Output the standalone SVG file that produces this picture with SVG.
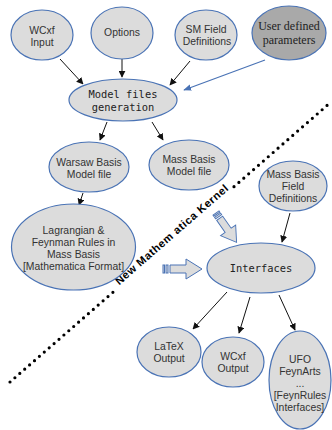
<svg xmlns="http://www.w3.org/2000/svg" width="332" height="430" viewBox="0 0 332 430">
<style>
.n{fill:#dcdcdc;stroke:#4a73b5;stroke-width:1.2}
.t{font-family:"Liberation Sans",Arial,sans-serif;font-size:10.4px;fill:#333;text-anchor:middle}
.m{font-family:"DejaVu Sans Mono","Liberation Mono",monospace;font-size:10.4px;fill:#222;text-anchor:middle}
.s{font-family:"Liberation Serif","Times New Roman",serif;font-size:12px;fill:#222;text-anchor:middle}
.c{stroke:#111;stroke-width:1;fill:none;marker-end:url(#ah)}
.b{stroke:#4a73b5;stroke-width:1.2;fill:none;marker-end:url(#bh)}
.ba{fill:#dcdcdc;stroke:#4a73b5;stroke-width:1}
</style>
<defs>
<marker id="ah" viewBox="0 0 10 10" refX="9" refY="5" markerWidth="7" markerHeight="7" markerUnits="userSpaceOnUse" orient="auto"><path d="M0,0 L10,5 L0,10 z" fill="#111"/></marker>
<marker id="bh" viewBox="0 0 10 10" refX="9" refY="5" markerWidth="8" markerHeight="8" markerUnits="userSpaceOnUse" orient="auto"><path d="M0,1 L10,5 L0,9 z" fill="#4a73b5"/></marker>
<g id="blk">
<rect class="ba" x="0" y="-4" width="1.5" height="8"/>
<rect class="ba" x="3" y="-4" width="2" height="8"/>
<polygon class="ba" points="7,-4 23,-4 23,-10 39,0 23,10 23,4 7,4"/>
</g>
</defs>

<g id="divider">
<line x1="10" y1="382" x2="116" y2="289.6" stroke="#000" stroke-width="3.2" stroke-linecap="round" stroke-dasharray="0 6.5"/>
<line x1="234" y1="186.7" x2="331" y2="102" stroke="#000" stroke-width="3.2" stroke-linecap="round" stroke-dasharray="0 6.5"/>
<text transform="translate(175,238) rotate(-41.1)" font-family="Liberation Sans,Arial,sans-serif" font-weight="bold" font-size="11" letter-spacing="0.6" text-anchor="middle" dy="-1" fill="#000">New Mathem atica Kernel</text>
</g>

<g id="connectors">
<line class="c" x1="60" y1="59" x2="83" y2="84"/>
<line class="c" x1="122" y1="59" x2="122" y2="77"/>
<line class="c" x1="190" y1="61" x2="170" y2="85"/>
<line class="b" x1="265" y1="60" x2="184" y2="90"/>
<line class="c" x1="107" y1="122" x2="100" y2="140"/>
<line class="c" x1="152" y1="122" x2="163" y2="140"/>
<line class="c" x1="83" y1="193" x2="79" y2="205"/>
<line class="c" x1="290" y1="213" x2="282" y2="242"/>
<line class="c" x1="227" y1="292" x2="193" y2="329"/>
<line class="c" x1="250" y1="297" x2="239" y2="333"/>
<line class="c" x1="279" y1="295" x2="295" y2="330"/>
<use href="#blk" transform="translate(163,269)"/>
<use href="#blk" transform="translate(216,213) rotate(55) scale(0.92)"/>
</g>

<g id="wcxf-input">
<ellipse class="n" cx="42" cy="35" rx="31" ry="25"/>
<text class="t" x="42" y="34">WCxf</text>
<text class="t" x="42" y="46">Input</text>
</g>
<g id="options">
<ellipse class="n" cx="122" cy="33" rx="31" ry="26"/>
<text class="t" x="122" y="36">Options</text>
</g>
<g id="sm-field">
<ellipse class="n" cx="206" cy="35" rx="31" ry="25"/>
<text class="t" x="206" y="33">SM Field</text>
<text class="t" x="207" y="45">Definitions</text>
</g>
<g id="user-params">
<ellipse cx="289" cy="33" rx="37" ry="27" fill="#a9a9a9" stroke="#4a73b5" stroke-width="1.2"/>
<text class="s" x="289" y="30">User defined</text>
<text class="s" x="289" y="44">parameters</text>
</g>
<g id="model-gen">
<ellipse class="n" cx="123" cy="100" rx="54" ry="21"/>
<text class="m" x="123" y="98">Model files</text>
<text class="m" x="123" y="111">generation</text>
</g>
<g id="warsaw">
<ellipse class="n" cx="89" cy="167" rx="40" ry="25"/>
<text class="t" x="89" y="166">Warsaw Basis</text>
<text class="t" x="89" y="178">Model file</text>
</g>
<g id="mass-model">
<ellipse class="n" cx="189" cy="165" rx="40" ry="25"/>
<text class="t" x="189" y="163">Mass Basis</text>
<text class="t" x="189" y="175">Model file</text>
</g>
<g id="lagrangian">
<ellipse class="n" cx="73.5" cy="247" rx="62" ry="43"/>
<text class="t" x="73.5" y="234">Lagrangian &amp;</text>
<text class="t" x="73.5" y="246">Feynman Rules in</text>
<text class="t" x="73.5" y="258">Mass Basis</text>
<text class="t" x="73.5" y="270">[Mathematica Format]</text>
</g>
<g id="mass-field">
<ellipse class="n" cx="293" cy="186" rx="34" ry="25"/>
<text class="t" x="293" y="178">Mass Basis</text>
<text class="t" x="293" y="190">Field</text>
<text class="t" x="293" y="202">Definitions</text>
</g>
<g id="interfaces">
<ellipse class="n" cx="261" cy="268" rx="54" ry="25"/>
<text class="m" x="261" y="272">Interfaces</text>
</g>
<g id="latex">
<ellipse class="n" cx="169" cy="352" rx="32" ry="25"/>
<text class="t" x="169" y="350">LaTeX</text>
<text class="t" x="169" y="362">Output</text>
</g>
<g id="wcxf-output">
<ellipse class="n" cx="233" cy="362" rx="31" ry="25"/>
<text class="t" x="233" y="360">WCxf</text>
<text class="t" x="233" y="372">Output</text>
</g>
<g id="ufo">
<ellipse class="n" cx="300" cy="380" rx="31" ry="49"/>
<text class="t" x="300" y="363">UFO</text>
<text class="t" x="300" y="375">FeynArts</text>
<text class="t" x="300" y="387">...</text>
<text class="t" x="300" y="399">[FeynRules</text>
<text class="t" x="300" y="411">Interfaces]</text>
</g>
</svg>
